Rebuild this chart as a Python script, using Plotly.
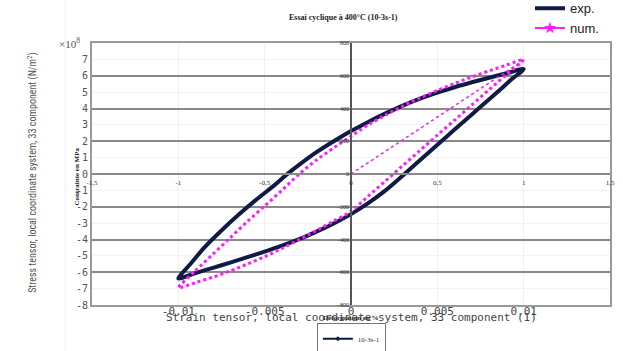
import plotly.graph_objects as go

# ---- data (strain in %, stress in MPa) ----
exp_up_strain = [-1.0, -0.93, -0.85, -0.75, -0.65, -0.55, -0.45, -0.38, -0.28, -0.2, -0.1, 0.0,
                 0.1, 0.2, 0.3, 0.4, 0.5, 0.6, 0.7, 0.8, 0.9, 1.0]
exp_up_stress = [-638, -550, -450, -345, -248, -158, -74, -10, 72, 133, 200, 262,
                 318, 370, 418, 460, 497, 530, 560, 588, 615, 641]
exp_down_strain = [1.0, 0.93, 0.85, 0.75, 0.65, 0.55, 0.45, 0.31, 0.2, 0.1, 0.0,
                   -0.1, -0.2, -0.3, -0.4, -0.5, -0.6, -0.7, -0.8, -0.9, -1.0]
exp_down_stress = [641, 578, 502, 410, 318, 225, 132, 0, -100, -178, -245,
                   -302, -352, -398, -438, -474, -508, -541, -573, -605, -638]

num_init_strain = [0.0, 1.0]
num_init_stress = [0, 695]
num_down_strain = [1.0, 0.9, 0.8, 0.7, 0.6, 0.5, 0.4, 0.3, 0.2, 0.1, 0.0,
                   -0.1, -0.2, -0.3, -0.4, -0.5, -0.6, -0.7, -0.8, -0.9, -1.0]
num_down_stress = [700, 607, 515, 422, 329, 237, 144, 51, -42, -135, -228,
                   -287, -345, -400, -455, -505, -550, -592, -630, -663, -695]
num_up_strain = [-1.0, -0.9, -0.8, -0.7, -0.6, -0.5, -0.4, -0.3, -0.2, -0.1, 0.0,
                 0.1, 0.2, 0.3, 0.4, 0.5, 0.6, 0.7, 0.8, 0.9, 1.0]
num_up_stress = [-695, -590, -490, -390, -290, -195, -100, 0, 85, 160, 230,
                 300, 360, 415, 465, 510, 553, 593, 630, 665, 700]

# tick labels
strain_ticks = [-0.01, -0.005, 0, 0.005, 0.01]
strain_ticktext = ["-0.01", "-0.005", "0", "0.005", "0.01"]
stress_ticks = [-8, -7, -6, -5, -4, -3, -2, -1, 0, 1, 2, 3, 4, 5, 6, 7]
pct_ticks = [-1.5, -1, -0.5, 0, 0.5, 1, 1.5]
pct_ticktext = ["-1,5", "-1", "-0,5", "0", "0,5", "1", "1,5"]
mpa_ticks = [-800, -600, -400, -200, 0, 200, 400, 600, 800]

NAVY = "#0f1a45"
MAG = "#ff1aff"
SERIF = "Liberation Serif, Times New Roman, serif"
MONO = "DejaVu Sans Mono, monospace"

fig = go.Figure()

fig.add_trace(go.Scatter(x=exp_up_strain + exp_down_strain[1:],
                         y=exp_up_stress + exp_down_stress[1:],
                         xaxis="x2", yaxis="y2", mode="lines", name="exp.",
                         line=dict(color=NAVY, width=4, shape="spline", smoothing=0.8)))
fig.add_trace(go.Scatter(x=num_init_strain, y=num_init_stress, xaxis="x2", yaxis="y2",
                         mode="lines", showlegend=False,
                         line=dict(color=MAG, width=1.5, dash="dot")))
fig.add_trace(go.Scatter(x=num_up_strain + num_down_strain[1:],
                         y=num_up_stress + num_down_stress[1:],
                         xaxis="x2", yaxis="y2", mode="lines", showlegend=False,
                         line=dict(color=MAG, width=3, dash="dot", shape="spline", smoothing=0.8)))
# legend entries (placed on the primary axes so that they are drawn)
fig.add_trace(go.Scatter(x=[None], y=[None], xaxis="x", yaxis="y", mode="lines+markers",
                         name="num.", line=dict(color=MAG, width=2),
                         marker=dict(symbol="star", size=9, color=MAG)))
fig.add_trace(go.Scatter(x=[None], y=[None], xaxis="x", yaxis="y", mode="lines+markers",
                         name="10-3s-1", legend="legend2", line=dict(color=NAVY, width=2),
                         marker=dict(symbol="diamond", size=4, color=NAVY)))

fig.update_layout(
    width=623, height=351,
    margin=dict(l=92, r=13, t=43, b=46, autoexpand=False),
    paper_bgcolor="white", plot_bgcolor="white",
    xaxis=dict(range=[-0.015, 0.015], tickvals=strain_ticks, ticktext=strain_ticktext,
               showgrid=True, gridcolor="#efefef", gridwidth=1, zeroline=False,
               showline=True, mirror=True, linecolor="#9a9a9a", linewidth=2,
               ticks="", tickangle=0, ticklabelstandoff=-5,
               tickfont=dict(family=MONO, size=11, color="#444")),
    yaxis=dict(range=[-8, 8], tickvals=stress_ticks, ticktext=[str(v) for v in stress_ticks],
               showgrid=True, gridcolor="#f3f3f3", zeroline=False,
               showline=True, mirror=True, linecolor="#9a9a9a", linewidth=2,
               ticks="", tickfont=dict(family=MONO, size=10, color="#555")),
    xaxis2=dict(overlaying="x", range=[-1.5, 1.5], anchor="free", position=0.5,
                tickvals=pct_ticks, ticktext=pct_ticktext, showgrid=False, zeroline=False,
                showline=True, linecolor="#8a8a8a", linewidth=2, ticks="", tickangle=0,
                ticklabelstandoff=2,
                tickfont=dict(family=SERIF, size=7, color="#333")),
    yaxis2=dict(overlaying="y", range=[-800, 800], anchor="free", position=0.5, side="left",
                tickvals=mpa_ticks, showgrid=True, gridcolor="#8a8a8a", gridwidth=2,
                zeroline=False, showline=True, linecolor="#555", linewidth=1.5, ticks="",
                tickfont=dict(family=SERIF, size=6, color="#333")),
    showlegend=True,
    legend=dict(x=0.8456, xanchor="left", y=1.19, yanchor="top",
                font=dict(family="Liberation Sans, Arial, sans-serif", size=13, color="#222"),
                bgcolor="rgba(0,0,0,0)", tracegroupgap=0),
    legend2=dict(xref="container", yref="container", x=0.564, xanchor="center", y=0.079,
                 yanchor="top", font=dict(family=SERIF, size=7, color="#333"),
                 bordercolor="#777", borderwidth=1, itemwidth=30, bgcolor="white"),
    title=dict(text="<b>Essai cyclique à 400°C (10-3s-1)</b>", x=0.551, xanchor="center",
               y=0.952, yanchor="middle", font=dict(family=SERIF, size=8, color="#222")),
    annotations=[
        dict(text="×10<sup>8</sup>", xref="paper", yref="paper", x=-0.019, y=1.0,
             xanchor="right", yanchor="middle", showarrow=False,
             font=dict(family=SERIF, size=11, color="#555")),
        dict(text="Stress tensor, local coordinate system, 33 component (N/m<sup>2</sup>)",
             xref="paper", yref="paper", x=-0.114, y=0.508, textangle=-90,
             xanchor="center", yanchor="middle", showarrow=False,
             font=dict(family="Liberation Sans Narrow, Roboto Condensed, Roboto, sans-serif",
                       size=10, color="#555")),
        dict(text="Strain tensor, local coordinate system, 33 component (1)",
             xref="paper", yref="paper", x=0.5, y=-0.0496,
             xanchor="center", yanchor="middle", showarrow=False,
             font=dict(family=MONO, size=11, color="#444")),
        dict(text="<b>Contrainte en MPa</b>", xref="paper", yref="paper", x=-0.029, y=0.49,
             textangle=-90, xanchor="center", yanchor="middle", showarrow=False,
             font=dict(family=SERIF, size=7, color="#222")),
        dict(text="<b>Déformation en %</b>", xref="paper", yref="paper", x=0.5, y=-0.05,
             xanchor="center", yanchor="middle", showarrow=False,
             font=dict(family=SERIF, size=7, color="#222")),
    ],
    shapes=[dict(type="line", xref="paper", yref="paper", x0=-0.052, x1=-0.052,
                 y0=-0.18, y1=1.17, line=dict(color="#f0f0f0", width=1))],
)

fig.write_html("out.html")
